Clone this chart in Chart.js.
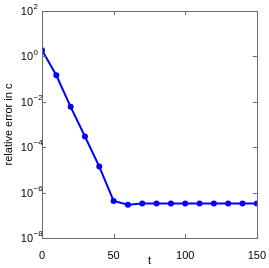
<!DOCTYPE html>
<html>
<head>
<meta charset="utf-8">
<script src="https://cdn.jsdelivr.net/npm/chart.js@4/dist/chart.umd.min.js"></script>
<style>
  html, body { margin: 0; padding: 0; background: #fff; }
  #wrap { width: 269px; height: 268px; }
</style>
</head>
<body>
<div id="wrap"><canvas id="grafico"></canvas></div>
<script>
// dados
const tempos = [0, 10, 20, 30, 40, 50, 60, 70, 80, 90, 100, 110, 120, 130, 140, 150];
const erroRelativo = [1.86, 0.147, 0.006, 2.95e-4, 1.4e-5, 4.3e-7, 2.9e-7, 3.3e-7, 3.3e-7, 3.3e-7,
                      3.3e-7, 3.3e-7, 3.3e-7, 3.3e-7, 3.3e-7, 3.3e-7];
const expoentesY = [-8, -6, -4, -2, 0, 2];
const ticksX = [0, 50, 100, 150];

const FONTE = '"Liberation Sans", Arial, sans-serif';
const COR_EIXO = '#6b6b6b';

// desenha a caixa, os traços internos e os rótulos 10^n
const eixosMatlab = {
  id: 'eixosMatlab',
  afterDraw(chart) {
    const ctx = chart.ctx;
    const area = chart.chartArea;
    const x = chart.scales.x;
    const y = chart.scales.y;
    ctx.save();
    ctx.strokeStyle = COR_EIXO;
    ctx.lineWidth = 1;
    ctx.strokeRect(Math.round(area.left) + 0.5, Math.round(area.top) + 0.5,
                   Math.round(area.right - area.left), Math.round(area.bottom - area.top));
    const t = 4;
    ctx.beginPath();
    ticksX.forEach(v => {
      const px = Math.round(x.getPixelForValue(v)) + 0.5;
      ctx.moveTo(px, area.bottom); ctx.lineTo(px, area.bottom - t);
      ctx.moveTo(px, area.top); ctx.lineTo(px, area.top + t);
    });
    expoentesY.forEach(e => {
      const py = Math.round(y.getPixelForValue(Math.pow(10, e))) + 0.5;
      ctx.moveTo(area.left, py); ctx.lineTo(area.left + t, py);
      ctx.moveTo(area.right, py); ctx.lineTo(area.right - t, py);
    });
    ctx.stroke();

    ctx.fillStyle = '#000';
    ctx.textBaseline = 'middle';
    expoentesY.forEach(e => {
      const py = y.getPixelForValue(Math.pow(10, e));
      ctx.font = '11px ' + FONTE;
      ctx.textAlign = 'right';
      ctx.fillText('10', 33, py + 1);
      ctx.font = '8px ' + FONTE;
      ctx.textAlign = 'left';
      ctx.fillText(e < 0 ? '\u2212' + Math.abs(e) : String(e), 33.5, py - 4);
    });
    ctx.restore();
  }
};

new Chart(document.getElementById('grafico'), {
  type: 'line',
  data: {
    labels: tempos,
    datasets: [{
      data: tempos.map((t, i) => ({ x: t, y: erroRelativo[i] })),
      borderColor: '#0000ff',
      backgroundColor: '#0000ff',
      borderWidth: 2,
      pointRadius: 2,
      pointHoverRadius: 2,
      tension: 0
    }]
  },
  options: {
    responsive: true,
    maintainAspectRatio: false,
    animation: false,
    events: [],
    layout: { padding: { top: 11, right: 11, left: 2, bottom: 0 } },
    plugins: { legend: { display: false }, tooltip: { enabled: false } },
    scales: {
      x: {
        type: 'linear',
        min: 0,
        max: 150,
        afterBuildTicks: s => { s.ticks = ticksX.map(v => ({ value: v })); },
        afterFit: s => { s.height = 30; },
        grid: { display: false },
        border: { display: false },
        ticks: { color: '#000', font: { family: FONTE, size: 11 }, padding: 3, maxRotation: 0 },
        title: { display: true, text: 't', color: '#000', font: { family: FONTE, size: 11 }, padding: { top: 1, bottom: 0 } }
      },
      y: {
        type: 'logarithmic',
        min: 1e-8,
        max: 1e2,
        afterBuildTicks: s => { s.ticks = expoentesY.map(e => ({ value: Math.pow(10, e) })); },
        afterFit: s => { s.width = 40; },
        grid: { display: false },
        border: { display: false },
        ticks: { display: false },
        title: { display: true, text: 'relative error in c', color: '#000', font: { family: FONTE, size: 11 }, padding: { top: 0, bottom: 0 } }
      }
    }
  },
  plugins: [eixosMatlab]
});
</script>
</body>
</html>
